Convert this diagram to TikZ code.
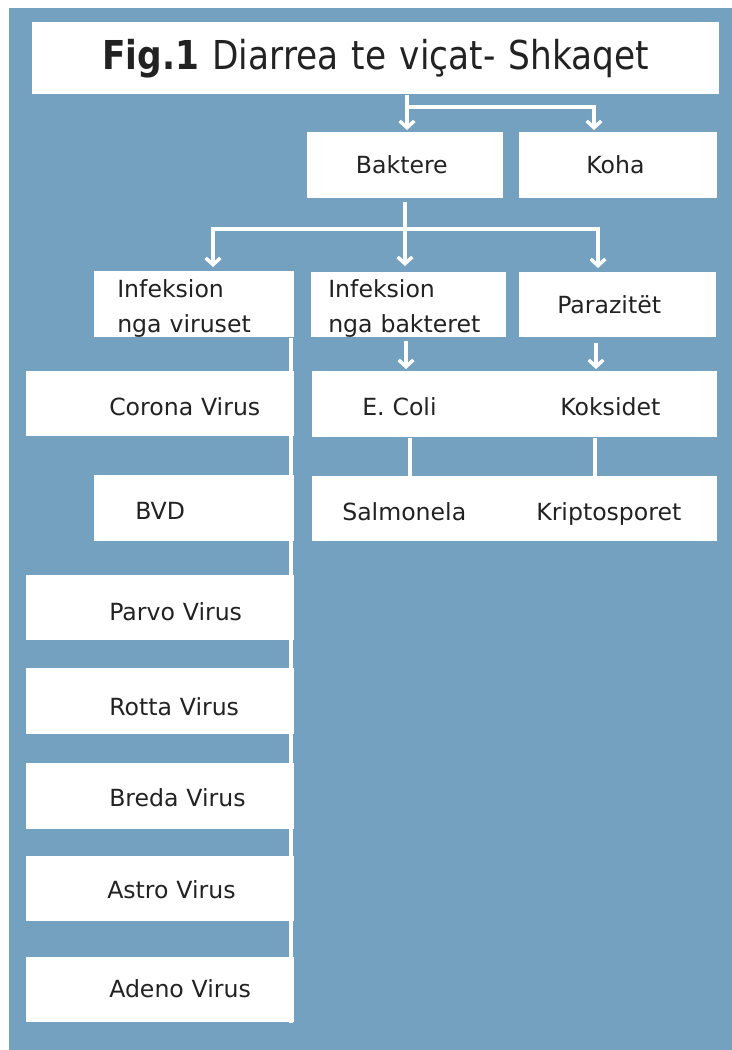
\documentclass[tikz,border=0pt]{standalone}
\usepackage{fontspec}
\setmainfont{DejaVu Sans}
\newfontfamily\titlefont{DejaVu Sans}[FakeStretch=0.863]
\usetikzlibrary{arrows.meta}
\definecolor{bg}{RGB}{116,161,192}
\definecolor{txtc}{RGB}{34,34,34}
\setlength{\parindent}{0pt}
\tikzset{
  barb/.tip={Straight Barb[length=5pt,width=11pt,line width=2.6pt]},
  bx/.style={fill=white, inner sep=0pt, anchor=north west, text=txtc, align=left,
    font=\fontsize{17.7pt}{26.25pt}\selectfont, text depth=0pt},
  conn/.style={draw=white, line width=3pt},
  arr/.style={conn, -barb},
  link/.style={draw=white, line width=2.5pt},
}
\begin{document}
\begin{tikzpicture}[x=0.75pt,y=-0.75pt]
\useasboundingbox (0,0) rectangle (732,1050);
\fill[white] (0,0) rectangle (732,1050);
\fill[bg] (9,8) rectangle (733,1051);

% title
\node[bx, align=center, text width=515.25pt, minimum height=54pt, text height=16.95pt,
  font=\titlefont\fontsize{29.85pt}{36pt}\selectfont] (title) at (32,22)
  {{\bfseries Fig.1} Diarrea te viçat- Shkaqet};

% second row
\node[bx, text width=147pt, minimum height=49.5pt, text height=12.45pt] (bak) at (307,132) {\hspace*{36.5pt}Baktere};
\node[bx, text width=148.5pt, minimum height=49.5pt, text height=12.45pt] (koha) at (519,132) {\hspace*{50.25pt}Koha};

% third row
\node[bx, text width=150pt, minimum height=49.5pt, text height=19.5pt, text depth=30pt] (infv) at (94,271)
  {\hspace*{17.25pt}Infeksion\\\hspace*{17.25pt}nga viruset};
\node[bx, text width=146.25pt, minimum height=48.75pt, text height=18.75pt, text depth=30pt] (infb) at (311,272)
  {\hspace*{12.75pt}Infeksion\\\hspace*{12.75pt}nga bakteret};
\node[bx, text width=147.75pt, minimum height=48.75pt, text height=13.2pt] (para) at (519,272) {\hspace*{28.5pt}Parazitët};

% bacteria / parasites
\node[bx, text width=150pt, minimum height=49.5pt, text height=16.5pt] (ecoli) at (312,371) {\hspace*{37.5pt}E. Coli};
\node[bx, text width=153.75pt, minimum height=49.5pt, text height=16.5pt] (koks) at (512,371) {\hspace*{36pt}Koksidet};
\node[bx, text width=150pt, minimum height=48.75pt, text height=17.25pt] (salm) at (312,476) {\hspace*{22.5pt}Salmonela};
\node[bx, text width=153.75pt, minimum height=48.75pt, text height=17.25pt] (kripto) at (512,476) {\hspace*{18pt}Kriptosporet};

% viruses
\node[bx, text width=201pt, minimum height=48.75pt, text height=17.25pt] (corona) at (26,371) {\hspace*{62.25pt}Corona Virus};
\node[bx, text width=150pt, minimum height=49.5pt, text height=16.5pt] (bvd) at (94,475) {\hspace*{30.75pt}BVD};
\node[bx, text width=201pt, minimum height=48.75pt, text height=18.75pt] (parvo) at (26,575) {\hspace*{62.25pt}Parvo Virus};
\node[bx, text width=201pt, minimum height=49.5pt, text height=21pt] (rotta) at (26,668) {\hspace*{62.25pt}Rotta Virus};
\node[bx, text width=201pt, minimum height=49.5pt, text height=16pt] (breda) at (26,763) {\hspace*{62.25pt}Breda Virus};
\node[bx, text width=201pt, minimum height=48.75pt, text height=14.7pt] (astro) at (26,856) {\hspace*{60.75pt}Astro Virus};
\node[bx, text width=201pt, minimum height=48.75pt, text height=11.7pt] (adeno) at (26,957) {\hspace*{62.25pt}Adeno Virus};

% connectors
\coordinate (j0) at (407,107);
\coordinate (j0k) at (594,107);
\draw[arr, shorten >=1.5pt] (title.south -| j0) -- (bak.north -| j0);
\draw[arr, shorten >=1.5pt] (j0) -- (j0k) -- (koha.north -| j0k);

\coordinate (j1) at (405,229);
\coordinate (j1l) at (213,229);
\coordinate (j1r) at (598,229);
\draw[arr, shorten <=2.25pt, shorten >=4.5pt] (bak.south -| j1) -- (infb.north -| j1);
\draw[conn, barb-barb, shorten <=3pt, shorten >=3pt] (infv.north -| j1l) -- (j1l) -- (j1r) -- (para.north -| j1r);

\coordinate (j2) at (406,0);
\coordinate (j2r) at (596,0);
\draw[arr, shorten <=2.25pt, shorten >=1.5pt] (infb.south -| j2) -- (ecoli.north -| j2);
\draw[arr, shorten <=3.75pt, shorten >=1.5pt] (para.south -| j2r) -- (koks.north -| j2r);

\coordinate (j3) at (410,0);
\coordinate (j3r) at (595,0);
\draw[link] (ecoli.south -| j3) -- (salm.north -| j3);
\draw[link] (koks.south -| j3r) -- (kripto.north -| j3r);

\coordinate (vl) at (290.5,0);
\draw[conn] (infv.south -| vl) -- (adeno.south -| vl);
\end{tikzpicture}
\end{document}
